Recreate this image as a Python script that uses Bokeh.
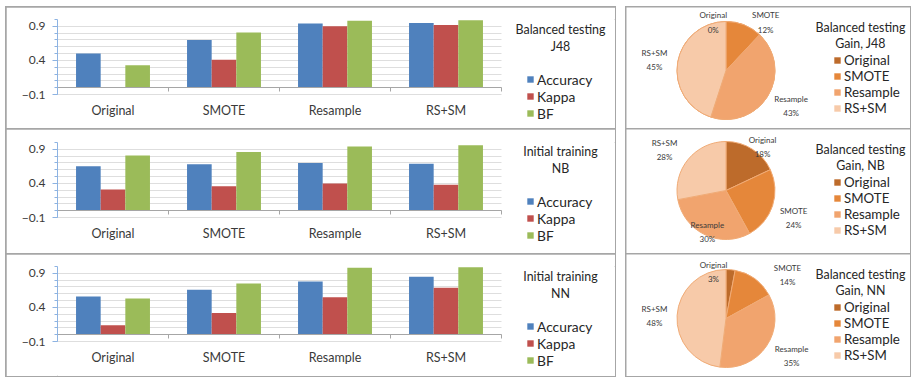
import numpy as np
from bokeh.plotting import figure
from bokeh.models import (ColumnDataSource, Range1d, LinearAxis, FixedTicker, Grid,
                          Legend, LegendItem, Label, Spacer)
from bokeh.layouts import row, column
from bokeh.transform import dodge
from bokeh.core.properties import value
from bokeh.embed import file_html
from bokeh.resources import INLINE

# ---- data -------------------------------------------------------------
categories = ["Original", "SMOTE", "Resample", "RS+SM"]
metrics = ["Accuracy", "Kappa", "BF"]

j48_accuracy = [0.50, 0.70, 0.94, 0.95]
j48_kappa = [0.00, 0.41, 0.90, 0.92]
j48_bf = [0.33, 0.81, 0.98, 0.99]

nb_accuracy = [0.65, 0.68, 0.70, 0.69]
nb_kappa = [0.31, 0.36, 0.40, 0.38]
nb_bf = [0.81, 0.86, 0.94, 0.96]

nn_accuracy = [0.56, 0.66, 0.78, 0.85]
nn_kappa = [0.14, 0.32, 0.55, 0.69]
nn_bf = [0.53, 0.75, 0.98, 0.99]

j48_gain = [0, 12, 43, 45]
nb_gain = [18, 24, 30, 28]
nn_gain = [3, 14, 35, 48]

y_ticks = [-0.1, 0.4, 0.9]

# ---- styling ----------------------------------------------------------
FONT = "Lato"
TEXT = "#262626"
AXIS_TEXT = "#3a3a3a"
AXIS_BLUE = "#8db3e2"
AXIS_GREY = "#a6a6a6"
GRID = "#dedede"
BAR_COLORS = {"Accuracy": "#4f81bd", "Kappa": "#c0504d", "BF": "#9bbb59"}
PIE_COLORS = ["#bd6b2b", "#e5873a", "#f1a46e", "#f7caa9"]
PIE_EDGE = "#f0ab76"
PANEL_STYLE = {"outline": "2px solid #a6a6a6", "outline-offset": "-1px"}

BAR_PANEL_W = 609
FRAME_LEFT = 51          # room for the value axis
CAT_PX = 111.0           # pixels per category slot
PX_PER_UNIT = 68.2       # pixels per 1.0 on the value axis
BAR_W = 0.222

PIE_PANEL_W = 284
PIE_R = 49.0             # pixels per unit radius
PIE_CX = 99.5            # pie centre from panel left, px

n_cat = len(categories)
cat_pos = [i + 0.5 for i in range(n_cat)]
cat_edges = list(range(n_cat + 1))
grid_ticks = np.round(np.arange(-0.1, 1.0001, 0.1), 1).tolist()


def bar_panel(title_lines, acc, kap, bf, height, frame_top):
    x_end = (BAR_PANEL_W - FRAME_LEFT) / CAT_PX
    y_start = 1.0 - (height - frame_top) / PX_PER_UNIT
    p = figure(width=BAR_PANEL_W, height=height,
               x_range=Range1d(0, x_end), y_range=Range1d(y_start, 1.0),
               x_axis_location=None, y_axis_location=None,
               toolbar_location=None, output_backend="svg",
               min_border_left=FRAME_LEFT, min_border_right=0,
               min_border_top=frame_top, min_border_bottom=0)
    p.outline_line_color = None
    p.styles = PANEL_STYLE
    for g in p.grid:
        g.visible = False

    try:
        p.add_layout(Grid(dimension=1, ticker=FixedTicker(ticks=grid_ticks),
                          cross_bounds=(0, n_cat), grid_line_color=GRID))
    except AttributeError:
        # horizontal guide lines drawn as inward ticks across the plot area
        p.add_layout(LinearAxis(fixed_location=0, ticker=FixedTicker(ticks=grid_ticks),
                                axis_line_color=None, major_tick_line_color=GRID,
                                major_tick_in=int(n_cat * CAT_PX), major_tick_out=0,
                                minor_tick_line_color=None, major_label_text_font_size="0px"),
                     "left")

    src = ColumnDataSource(dict(pos=cat_pos, cat=categories, Accuracy=acc, Kappa=kap, BF=bf))
    renderers = []
    for name, off in zip(metrics, [-BAR_W, 0.0, BAR_W]):
        r = p.vbar(x=dodge("pos", off), top=name, bottom=0,
                   width=BAR_W, source=src, fill_color=BAR_COLORS[name], line_color=None)
        renderers.append(r)

    yax = LinearAxis(bounds=(-0.1, 1.0),
                     ticker=FixedTicker(ticks=y_ticks, minor_ticks=grid_ticks),
                     axis_line_color=AXIS_BLUE, major_tick_line_color=AXIS_BLUE,
                     minor_tick_line_color=AXIS_BLUE,
                     major_tick_in=0, major_tick_out=5, minor_tick_in=0, minor_tick_out=3,
                     major_label_standoff=7, major_label_text_font=FONT,
                     major_label_text_font_size="12px", major_label_text_color=AXIS_TEXT)
    p.add_layout(yax, "left")

    # horizontal category axis crossing at zero, ticks between the groups
    zax = LinearAxis(fixed_location=0, bounds=(0, n_cat),
                     ticker=FixedTicker(ticks=cat_edges),
                     axis_line_color=AXIS_GREY, major_tick_line_color=AXIS_GREY,
                     minor_tick_line_color=None, major_tick_in=0, major_tick_out=4,
                     major_label_text_font_size="0px", major_label_text_color=None)
    p.add_layout(zax, "below")

    # category names under the bottom of the value range
    xax = LinearAxis(fixed_location=-0.1, bounds=(0, n_cat),
                     ticker=FixedTicker(ticks=cat_pos),
                     major_label_overrides={c: n for c, n in zip(cat_pos, categories)},
                     axis_line_color=None, major_tick_line_color=None,
                     minor_tick_line_color=None, major_tick_in=0, major_tick_out=0,
                     major_label_standoff=8, major_label_text_font=FONT,
                     major_label_text_font_size="12.5px", major_label_text_color=AXIS_TEXT)
    p.add_layout(xax, "below")

    legend = Legend(items=[LegendItem(label=n, renderers=[r]) for n, r in zip(metrics, renderers)],
                    location=(469, height - 114.5), orientation="vertical",
                    padding=0, margin=0, spacing=0,
                    glyph_width=8, glyph_height=8, label_standoff=3, label_height=14,
                    label_text_font=FONT, label_text_font_size="13.8px",
                    label_text_color=TEXT,
                    border_line_color=None, background_fill_alpha=0)
    p.add_layout(legend)

    for text, rel_y in zip(title_lines, [22, 39]):
        p.add_layout(Label(x=503, y=height - rel_y, x_units="screen", y_units="screen",
                           text=text, text_align="center", text_baseline="middle",
                           text_font=FONT, text_font_size="12.4px", text_color=TEXT))
    return p


def pie_panel(title_lines, gains, label_pos, height, cy):
    p = figure(width=PIE_PANEL_W, height=height,
               x_range=Range1d(-PIE_CX / PIE_R, (PIE_PANEL_W - PIE_CX) / PIE_R),
               y_range=Range1d(-(height - cy) / PIE_R, cy / PIE_R),
               x_axis_location=None, y_axis_location=None,
               toolbar_location=None, output_backend="svg", min_border=0)
    p.outline_line_color = None
    p.styles = PANEL_STYLE
    for g in p.grid:
        g.visible = False

    frac = np.array(gains, dtype=float) / float(sum(gains))
    cum = np.concatenate([[0.0], np.cumsum(frac)])
    # slices run clockwise from twelve o'clock
    start_cw = np.pi / 2 - 2 * np.pi * cum[:-1]
    end_cw = np.pi / 2 - 2 * np.pi * cum[1:]
    src = ColumnDataSource(dict(
        name=categories, start=end_cw, end=start_cw, color=PIE_COLORS,
        lx=[q[0] for q in label_pos], ly=[q[1] for q in label_pos],
        label=[f"{n}\n{g}%" for n, g in zip(categories, gains)]))
    p.wedge(x=0, y=0, radius=1, start_angle="start", end_angle="end",
            direction="anticlock", fill_color="color", line_color=PIE_EDGE,
            line_width=1, source=src)
    p.text(x="lx", y="ly", text="label", source=src, text_align="center",
           text_baseline="middle", text_font=value(FONT), text_font_size="8px",
           text_color=AXIS_TEXT, text_line_height=1.42)

    # square legend swatches from the same rows; the renderer itself stays hidden
    swatch = p.rect(x="lx", y="ly", width=0.1, height=0.1, fill_color="color",
                    line_color=None, source=src, visible=False)
    legend = Legend(items=[LegendItem(label=n, renderers=[swatch], index=i)
                           for i, n in enumerate(categories)],
                    location=(207, height - 109), orientation="vertical",
                    padding=0, margin=0, spacing=0,
                    glyph_width=8, glyph_height=8, label_standoff=3, label_height=14,
                    label_text_font=FONT, label_text_font_size="13.3px",
                    label_text_color=TEXT,
                    border_line_color=None, background_fill_alpha=0)
    p.add_layout(legend)

    for text, rel_y in zip(title_lines, [20, 35.5]):
        p.add_layout(Label(x=234, y=height - rel_y, x_units="screen", y_units="screen",
                           text=text, text_align="center", text_baseline="middle",
                           text_font=FONT, text_font_size="12.4px", text_color=TEXT))
    return p


j48_label_pos = [(-0.26, 0.98), (0.81, 0.98), (1.33, -0.72), (-1.46, 0.21)]
nb_label_pos = [(0.745, 0.89), (1.38, -0.56), (-0.38, -0.84), (-1.255, 0.82)]
nn_label_pos = [(-0.255, 0.95), (1.255, 0.89), (1.34, -0.765), (-1.46, 0.05)]

b1 = bar_panel(["Balanced testing", "J48"], j48_accuracy, j48_kappa, j48_bf, 122, 12)
b2 = bar_panel(["Initial training", "NB"], nb_accuracy, nb_kappa, nb_bf, 125, 13)
b3 = bar_panel(["Initial training", "NN"], nn_accuracy, nn_kappa, nn_bf, 122, 12)

q1 = pie_panel(["Balanced testing", "Gain, J48"], j48_gain, j48_label_pos, 122, 63)
q2 = pie_panel(["Balanced testing", "Gain, NB"], nb_gain, nb_label_pos, 125, 61)
q3 = pie_panel(["Balanced testing", "Gain, NN"], nn_gain, nn_label_pos, 122, 64)

page = column(
    Spacer(width=910, height=7),
    row(Spacer(width=6, height=369), column(b1, b2, b3),
        Spacer(width=11, height=369), column(q1, q2, q3)),
)

with open("out.html", "w") as f:
    f.write(file_html(page, INLINE))
